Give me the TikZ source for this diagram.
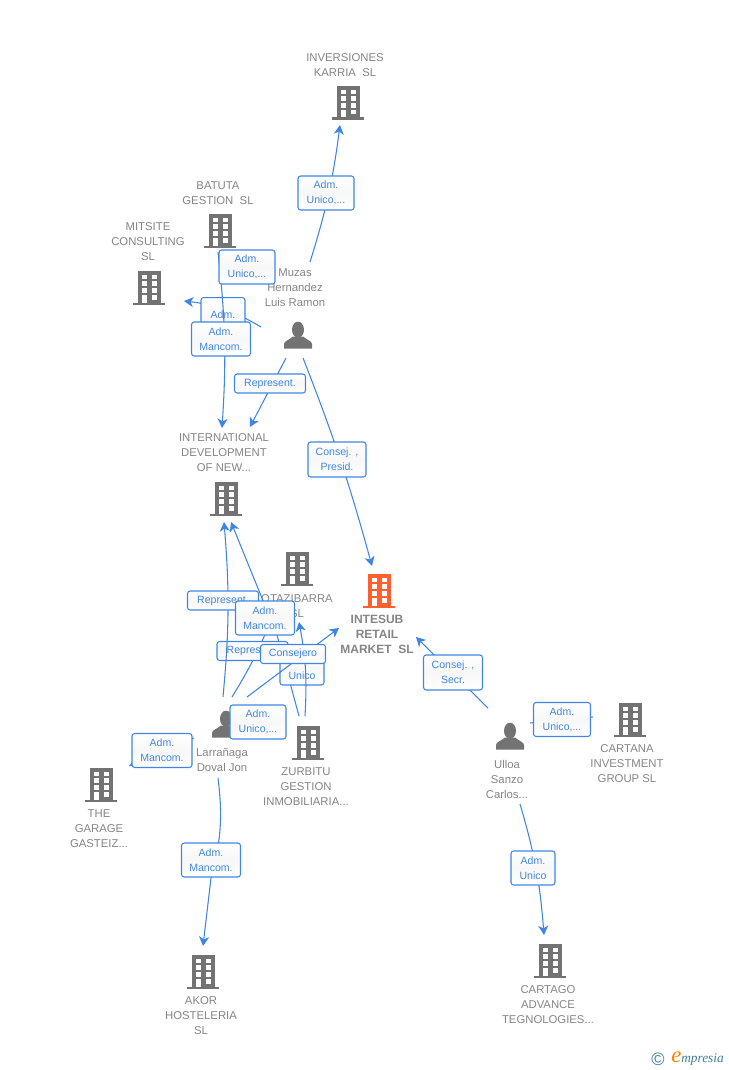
\documentclass[tikz,border=0pt]{standalone}
\usepackage{fontspec}
\setmainfont{Liberation Sans}
\newfontfamily\logofont{Liberation Serif}
\usepackage{xcolor}
\usepackage{tikz}
\usetikzlibrary{arrows.meta}
\definecolor{linkblue}{HTML}{3F86E4}
\definecolor{txtgray}{HTML}{858585}
\definecolor{icongray}{HTML}{737373}
\definecolor{mainorange}{HTML}{FF6030}
\definecolor{logoteal}{HTML}{3F7F96}
\tikzset{
  link/.style={draw=linkblue,line width=0.8pt,-{Stealth[length=7pt,width=7.5pt,inset=2pt]}},
  plainlink/.style={draw=linkblue,line width=0.8pt},
  role/.style={draw=linkblue,line width=0.8pt,rounded corners=2pt,top color=white,bottom color=white,middle color=gray!6,text=linkblue,align=center,inner sep=0pt,font=\fontsize{7.9}{11.25}\selectfont},
  entname/.style={text=txtgray,align=center,inner sep=0pt,font=\fontsize{8.5}{11.25}\selectfont},
  mainname/.style={entname,font=\bfseries\fontsize{9}{11.25}\selectfont}
}
\newcommand{\bldg}[3]{%
  \begin{scope}[shift={(#1,#2)}]
    \fill[#3] (-11.5,-17) rectangle (11.5,15);
    \fill[#3] (-16,14.5) rectangle (16,17);
    \foreach \r in {-13.3,-6.6,0.1}{
      \fill[white] (-7.5,\r) rectangle (-2.5,\r+4.7);
      \fill[white] (2.5,\r) rectangle (7.7,\r+4.7);
    }
    \fill[white] (-7.5,7) rectangle (-2.5,14.5);
    \fill[white] (2.5,7) rectangle (7.7,11.5);
  \end{scope}}
\newcommand{\prsn}[2]{%
  \begin{scope}[shift={(#1,#2)}]
    \fill[icongray] (0,-6.3) ellipse (6 and 8);
    \fill[icongray] (-14,12.5) -- (-14,8) .. controls (-14,5) and (-9,4) .. (-5,0.5) -- (5,0.5) .. controls (9,4) and (14,5) .. (14,8) -- (14,12.5) -- cycle;
  \end{scope}}
\begin{document}
\begin{tikzpicture}[x=0.75pt,y=-0.75pt]
  \useasboundingbox (0,0) rectangle (728,1070);

  % icons
  \bldg{348}{103}{icongray}
  \bldg{220}{231}{icongray}
  \bldg{149}{288}{icongray}
  \bldg{226}{499}{icongray}
  \bldg{297}{569}{icongray}
  \bldg{379}{591}{mainorange}
  \bldg{308}{743}{icongray}
  \bldg{630}{720}{icongray}
  \bldg{101}{785}{icongray}
  \bldg{203}{972}{icongray}
  \bldg{550}{961}{icongray}
  \prsn{298}{336}
  \prsn{226}{725}
  \prsn{510}{737}

  % names
  \node[entname] at (345,65) (inversiones) {INVERSIONES\\KARRIA\ \ SL};
  \node[entname] at (218,193) (batuta) {BATUTA\\GESTION\ \ SL};
  \node[entname] at (148,242) (mitsite) {MITSITE\\CONSULTING\\SL};
  \node[entname] at (295,288) (muzas) {Muzas\\Hernandez\\Luis Ramon};
  \node[entname] at (224,453) (intl) {INTERNATIONAL\\DEVELOPMENT\\OF NEW...};
  \node[entname] at (297,606) (otazibarra) {OTAZIBARRA\\SL};
  \node[mainname] at (377,634) (intesub) {INTESUB\\RETAIL\\MARKET\ \ SL};
  \node[entname] at (306,787) (zurbitu) {ZURBITU\\GESTION\\INMOBILIARIA...};
  \node[entname] at (627,764) (cartana) {CARTANA\\INVESTMENT\\GROUP SL};
  \node[entname] at (99,829) (garage) {THE\\GARAGE\\GASTEIZ...};
  \node[entname] at (222,760) (larranaga) {Larrañaga\\Doval Jon};
  \node[entname] at (507,779) (ulloa) {Ulloa\\Sanzo\\Carlos...};
  \node[entname] at (201,1016) (akor) {AKOR\\HOSTELERIA\\SL};
  \node[entname] at (548,1005) (cartago) {CARTAGO\\ADVANCE\\TEGNOLOGIES...};

  % link ends
  \coordinate (m1) at (310,262);
  \coordinate (m1e) at (340,125);
  \coordinate (m2) at (261,327);
  \coordinate (m2e) at (184,301);
  \coordinate (m3) at (286,358);
  \coordinate (m3e) at (250,427);
  \coordinate (m4) at (303,358);
  \coordinate (m4e) at (372,566);
  \coordinate (b1) at (218,252);
  \coordinate (b1e) at (222,428);
  \coordinate (l1) at (223,697);
  \coordinate (l1e) at (224,522);
  \coordinate (l2) at (232,697);
  \coordinate (l2e) at (267,630);
  \coordinate (l3) at (247,697);
  \coordinate (l3e) at (339,628);
  \coordinate (l4) at (218,778);
  \coordinate (l4m) at (211,878);
  \coordinate (l4e) at (203,946);
  \coordinate (l5) at (194,738);
  \coordinate (l5e) at (129,766);
  \coordinate (z1) at (299,716);
  \coordinate (z1m) at (277,635);
  \coordinate (z1e) at (231,522);
  \coordinate (z2) at (305,716);
  \coordinate (z2e) at (299,622);
  \coordinate (u1) at (488,708);
  \coordinate (u1e) at (416,637);
  \coordinate (u2) at (520,804);
  \coordinate (u2e) at (544,935);
  \coordinate (u3) at (530,723);
  \coordinate (u3e) at (593,717);

  \draw[link] (m1) to[bend right=5] (m1e);
  \draw[link] (m2) to[bend right=12] (m2e);
  \draw[link] (m3) -- (m3e);
  \draw[link] (m4) to[bend left=3] (m4e);
  \draw[plainlink] (l2) to[bend right=4] (l2e);
  \draw[link] (l4) to[bend left=11] (l4m) -- (l4e);
  \draw[link] (l5) -- (l5e);
  \draw[link] (z1) -- (z1m) -- (z1e);
  \draw[link] (u1) -- (u1e);
  \draw[link] (u2) to[bend left=6] (u2e);
  \draw[plainlink] (u3) -- (u3e);

  % boxes
  \node[role,minimum width=33pt,minimum height=37.5pt,anchor=north] at (223,297) (rsolid) {Adm.\\Solid.};
  \draw[link] (b1) to[bend left=5] (b1e);
  \node[role,minimum width=42pt,minimum height=25.5pt] at (326,193) (rinv) {Adm.\\Unico,...};
  \node[role,minimum width=42pt,minimum height=25.5pt] at (247,267) (rbat) {Adm.\\Unico,...};
  \node[role,minimum width=44.25pt,minimum height=25.5pt] at (221,339) (rmit) {Adm.\\Mancom.};
  \node[role,minimum width=53.25pt,minimum height=14.25pt] at (270,383.5) (rrep) {Represent.};
  \node[role,minimum width=43.5pt,minimum height=26.25pt] at (337,459.5) (rpres) {Consej. ,\\Presid.};
  \node[role,minimum width=53.25pt,minimum height=14.25pt] at (252.5,651) (rrepb) {Represent.};
  \draw[link] (l1) to[bend right=5] (l1e);
  \node[role,minimum width=53.25pt,minimum height=14.25pt] at (223,600.5) (rrepa) {Represent.};
  \node[role,minimum width=44.25pt,minimum height=25.5pt] at (265,618) (rman) {Adm.\\Mancom.};
  \node[role,minimum width=33pt,minimum height=25.5pt] at (302,668) (runi) {Adm.\\Unico};
  \draw[link] (z2) to[bend right=7] (z2e);
  \draw[link] (l3) -- (l3e);
  \node[role,minimum width=48.75pt,minimum height=14.25pt] at (293,654) (rcon) {Consejero};
  \node[role,minimum width=42pt,minimum height=25.5pt] at (258,722) (rzur) {Adm.\\Unico,...};
  \node[role,minimum width=45pt,minimum height=25.5pt] at (162,750.5) (rgar) {Adm.\\Mancom.};
  \node[role,minimum width=44.25pt,minimum height=25.5pt] at (211,860) (rakor) {Adm.\\Mancom.};
  \node[role,minimum width=44.25pt,minimum height=26.25pt] at (453,672.5) (rsec) {Consej. ,\\Secr.};
  \node[role,minimum width=42.75pt,minimum height=25.5pt] at (562,719.5) (rcar) {Adm.\\Unico,...};
  \node[role,minimum width=33pt,minimum height=25.5pt] at (533,868) (rcago) {Adm.\\Unico};

  % logo
  \node[text=logoteal,inner sep=0pt,font=\fontsize{13.5}{13.5}\selectfont] at (658,1059) (copyr) {©};
  \node[text=logoteal,inner sep=0pt,anchor=west,font=\logofont\itshape\fontsize{10}{12}\selectfont] at (671,1059) (logo) {{\color{orange}\fontsize{17}{12}\selectfont e}mpresia};
\end{tikzpicture}
\end{document}
